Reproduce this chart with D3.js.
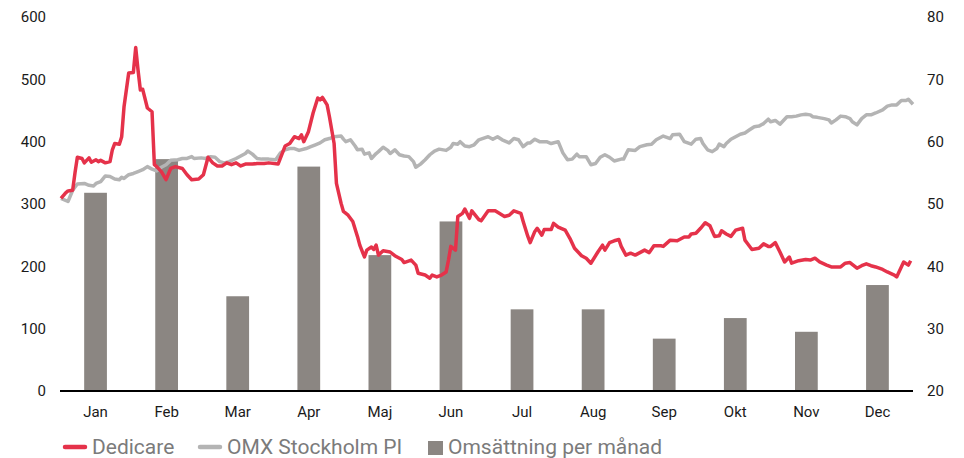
<!DOCTYPE html>
<html>
    <head>
        <meta charset="utf-8">
        <script src="https://d3js.org/d3.v7.min.js"></script>
        <style>
            body { margin: 0; background: #fff; }
            text { font-family: Roboto, "Noto Sans", sans-serif; }
        </style>
    </head>
    <body>

        <script>
            // månader och omsättning per månad (vänster axel)
            var months = ['Jan', 'Feb', 'Mar', 'Apr', 'Maj', 'Jun', 'Jul', 'Aug', 'Sep', 'Okt', 'Nov', 'Dec'];
            var omsattning = [318, 372, 152, 360, 218, 272, 131, 131, 84, 117, 95, 170];

            var leftTicks  = [0, 100, 200, 300, 400, 500, 600];
            var rightTicks = [20, 30, 40, 50, 60, 70, 80];

            // [dag på året, kurs] (höger axel)
            var dedicare = [
                [0,50.9],[2,51.8],[3,52.1],[5,52.2],[6,55.0],[7,57.5],[9,57.3],[10,56.6],[12,57.4],[13,56.7],
                [15,57.1],[16,56.8],[17,57.0],[19,56.6],[21,56.8],[22,58.7],[23,59.7],[25,59.6],[26,60.8],[27,65.6],
                [29,71.0],[31,71.1],[32,75.1],[33,71.5],[34,68.3],[35,68.4],[37,65.4],[39,64.8],[40,56.3],[41,56.0],
                [43,55.2],[45,53.9],[47,55.7],[49,56.0],[52,55.7],[54,54.7],[56,53.9],[59,54.0],[61,54.7],[63,57.5],
                [65,56.6],[67,56.1],[69,56.1],[71,56.6],[73,56.3],[75,56.6],[77,56.1],[79,56.4],[82,56.4],[84,56.5],
                [87,56.5],[89,56.6],[93,56.4],[96,59.3],[98,59.7],[100,60.8],[102,60.5],[103,61.1],[104,60.0],[106,61.6],
                [108,64.6],[110,67.0],[111,66.7],[112,67.1],[114,65.9],[115,64.0],[117,59.7],[118,53.3],[120,50.1],[121,48.8],
                [123,48.2],[125,47.2],[127,44.8],[128,43.4],[130,41.5],[131,42.6],[133,43.1],[134,42.7],[135,43.4],[136,41.8],
                [138,42.5],[141,42.3],[143,41.7],[146,41.1],[147,40.6],[150,41.0],[152,40.2],[153,38.9],[156,38.6],[158,38.1],
                [159,38.6],[161,38.3],[163,38.6],[165,39.1],[166,41.0],[167,43.2],[169,42.6],[170,48.0],[172,48.5],[173,49.2],
                [175,47.7],[176,48.9],[179,47.5],[180,47.3],[183,48.9],[186,48.9],[190,48.0],[192,48.2],[194,48.9],[197,48.5],
                [198,47.2],[200,44.8],[201,43.8],[203,45.6],[204,46.1],[206,45.0],[207,45.9],[210,45.9],[211,46.9],[213,46.3],
                [216,45.8],[218,44.5],[220,42.9],[223,41.7],[225,41.3],[227,40.5],[230,42.3],[232,43.4],[233,42.6],[235,43.8],
                [237,44.1],[239,44.3],[240,43.2],[242,41.8],[244,42.1],[246,41.8],[248,42.2],[250,42.6],[252,42.2],[254,43.3],
                [257,43.3],[258,43.2],[261,44.2],[264,44.1],[267,44.7],[269,44.7],[270,45.2],[272,45.3],[274,46.1],[276,47.0],
                [278,46.5],[280,44.8],[282,44.9],[283,45.7],[285,45.2],[287,44.8],[289,45.8],[292,46.1],[293,44.2],[294,43.7],
                [296,42.7],[299,42.9],[301,43.6],[303,43.2],[304,43.2],[306,43.8],[308,42.3],[310,40.7],[312,41.5],[313,40.5],
                [316,40.9],[319,41.1],[321,41.0],[323,41.3],[325,40.7],[328,40.2],[330,39.9],[334,39.9],[336,40.5],[338,40.6],
                [341,39.7],[343,40.1],[345,40.4],[347,40.1],[349,39.9],[352,39.5],[354,39.1],[357,38.6],[358,38.3],[360,39.9],
                [361,40.7],[363,40.2],[364,40.9]
            ];

            var omx = [
                [0,50.9],[3,50.4],[5,52.2],[7,53.2],[10,53.3],[12,53.0],[14,52.9],[15,53.3],[17,53.6],[19,54.5],
                [21,54.4],[23,54.0],[25,53.9],[26,54.3],[27,54.1],[29,54.7],[31,54.9],[33,55.2],[35,55.5],[37,56.0],
                [39,55.6],[41,55.3],[43,55.9],[45,56.3],[47,57.0],[50,57.1],[52,57.3],[54,57.3],[56,57.6],[57,57.3],
                [60,57.4],[62,57.3],[64,57.6],[66,57.5],[68,56.8],[70,56.6],[72,56.8],[75,57.3],[77,57.7],[79,58.1],
                [80,58.5],[82,58.0],[84,57.3],[86,57.2],[89,57.2],[92,57.1],[94,58.2],[96,58.7],[98,58.9],[100,58.9],
                [102,58.6],[105,58.9],[107,59.2],[109,59.5],[111,59.8],[113,60.3],[115,60.5],[117,60.8],[120,60.9],[121,60.4],
                [122,60.0],[124,60.3],[126,59.3],[127,58.7],[129,58.8],[130,58.0],[132,58.2],[133,57.3],[135,58.1],[136,58.4],
                [138,59.1],[140,58.6],[141,58.1],[143,58.7],[145,57.9],[147,57.7],[149,57.6],[151,56.8],[152,55.9],[154,56.4],
                [156,57.1],[158,57.9],[160,58.5],[162,58.8],[165,58.6],[167,59.1],[168,59.7],[170,59.6],[171,60.0],[173,59.3],
                [175,59.2],[177,59.5],[179,60.3],[183,60.8],[185,60.4],[187,60.8],[189,60.3],[192,59.8],[194,60.5],[196,60.3],
                [198,59.2],[200,59.8],[201,59.8],[203,60.4],[205,60.0],[208,60.0],[210,59.7],[213,60.0],[215,58.2],[217,57.1],
                [219,57.2],[221,58.0],[222,57.6],[225,57.6],[227,56.3],[229,56.5],[231,57.5],[233,57.9],[235,57.5],[237,56.9],
                [240,57.2],[241,57.2],[243,58.7],[246,58.6],[248,59.2],[251,59.5],[253,59.6],[255,60.3],[258,60.9],[261,60.5],
                [262,61.1],[265,61.2],[267,60.0],[270,59.6],[272,60.4],[274,60.5],[275,59.7],[277,58.7],[279,58.4],[281,58.9],
                [282,59.6],[284,59.2],[285,59.7],[287,60.4],[289,60.8],[291,61.2],[293,61.4],[295,61.9],[297,62.4],[299,62.5],
                [301,62.9],[303,63.6],[304,63.2],[306,63.4],[308,62.8],[309,63.2],[311,64.0],[313,64.0],[315,64.1],[317,64.3],
                [319,64.4],[321,64.3],[322,64.0],[324,63.9],[327,63.7],[329,63.5],[330,63.0],[332,63.5],[334,64.1],[336,64.0],
                [338,63.7],[339,63.2],[341,62.7],[343,63.7],[345,64.3],[347,64.3],[349,64.6],[352,65.1],[354,65.7],[356,65.9],
                [358,65.9],[360,66.6],[362,66.6],[363,66.8],[365,66.0]
            ];

            var width = 964, height = 458;
            var plot = { left: 60, right: 913, top: 17, bottom: 391 };

            var svg = d3.select('body')
                        .append('svg')
                        .attr('width', width)
                        .attr('height', height);

            var x = d3.scaleBand()
                        .domain(months)
                        .range([plot.left, plot.right])
                        .paddingInner(0.68)
                        .paddingOuter(0.34);

            var xDay = d3.scaleLinear().domain([0, 365]).range([plot.left + 1, plot.right]);
            var yLeft = d3.scaleLinear().domain([0, 600]).range([plot.bottom, plot.top]);
            var yRight = d3.scaleLinear().domain([20, 80]).range([plot.bottom, plot.top]);

            // staplar
            svg.append('g')
                .selectAll('rect')
                .data(omsattning)
                .enter().append('rect')
                    .attr('x', function(d, i) { return x(months[i]); })
                    .attr('y', function(d) { return yLeft(d); })
                    .attr('width', x.bandwidth())
                    .attr('height', function(d) { return yLeft(0) - yLeft(d); })
                    .style('fill', '#8b8682');

            // axlar
            var leftAxis = svg.append('g')
                .attr('transform', 'translate(46,0)')
                .call(d3.axisLeft(yLeft).tickValues(leftTicks).tickSize(0).tickPadding(0));
            var rightAxis = svg.append('g')
                .attr('transform', 'translate(927,0)')
                .call(d3.axisRight(yRight).tickValues(rightTicks).tickSize(0).tickPadding(0));
            var bottomAxis = svg.append('g')
                .attr('transform', 'translate(0,' + plot.bottom + ')')
                .call(d3.axisBottom(x).tickSize(0).tickPadding(15));

            [leftAxis, rightAxis, bottomAxis].forEach(function(a) {
                a.select('.domain').remove();
                a.selectAll('text')
                    .style('font-size', '15px')
                    .style('font-family', 'Roboto, sans-serif')
                    .style('fill', '#1a1a1a');
            });

            svg.append('line')
                .attr('x1', plot.left).attr('x2', plot.right)
                .attr('y1', plot.bottom).attr('y2', plot.bottom)
                .style('stroke', '#000')
                .style('stroke-width', 2);

            // linjer
            var line = d3.line()
                .x(function(d) { return xDay(d[0]); })
                .y(function(d) { return yRight(d[1]); });

            svg.append('path')
                .datum(omx)
                .attr('d', line)
                .style('fill', 'none')
                .style('stroke', '#b4b4b4')
                .style('stroke-width', 3.5)
                .style('stroke-linejoin', 'round');

            svg.append('path')
                .datum(dedicare)
                .attr('d', line)
                .style('fill', 'none')
                .style('stroke', '#e5324a')
                .style('stroke-width', 3.5)
                .style('stroke-linejoin', 'round');

            // legend
            var legend = svg.append('g').attr('transform', 'translate(0,447)');
            var items = [
                { name: 'Dedicare', type: 'line', color: '#e5324a', x: 65, tx: 92 },
                { name: 'OMX Stockholm PI', type: 'line', color: '#b4b4b4', x: 200, tx: 227 },
                { name: 'Omsättning per månad', type: 'rect', color: '#8b8682', x: 428, tx: 448 }
            ];
            items.forEach(function(it) {
                if (it.type === 'line') {
                    legend.append('line')
                        .attr('x1', it.x).attr('x2', it.x + 20)
                        .attr('y1', 0).attr('y2', 0)
                        .style('stroke', it.color)
                        .style('stroke-width', 4.5)
                        .style('stroke-linecap', 'round');
                } else {
                    legend.append('rect')
                        .attr('x', it.x).attr('y', -6)
                        .attr('width', 15).attr('height', 14)
                        .style('fill', it.color);
                }
                legend.append('text')
                    .attr('x', it.tx)
                    .attr('y', 7)
                    .style('font-size', '21px')
                    .style('fill', '#7b7b7b')
                    .text(it.name);
            });
        </script>
    </body>
</html>
